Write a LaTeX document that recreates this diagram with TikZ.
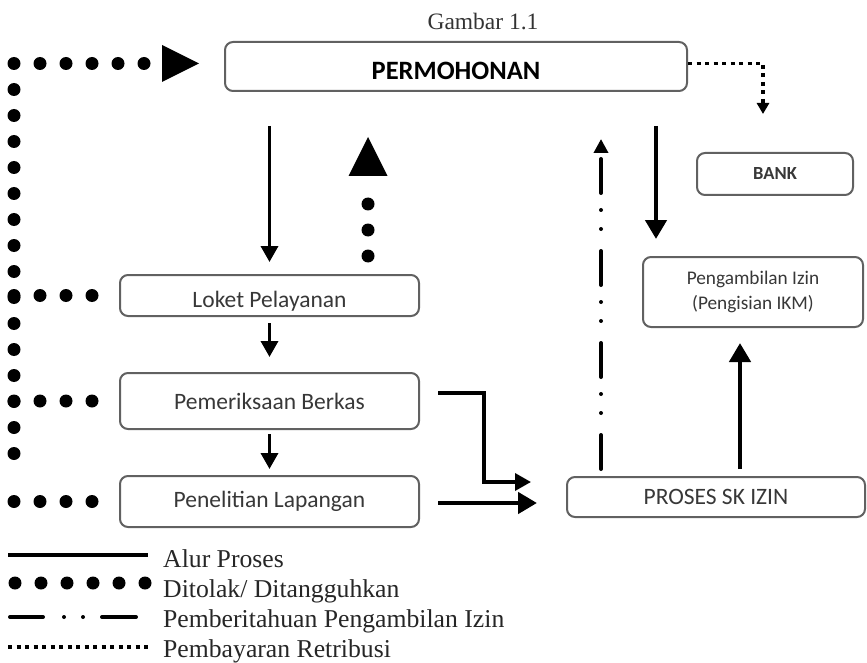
\documentclass[tikz,border=0pt]{standalone}
\usepackage{fontspec}
\setmainfont{Liberation Serif}
\newfontfamily\boxfont{Carlito}
\usetikzlibrary{arrows.meta,calc}

\begin{document}
\begin{tikzpicture}[x=1pt,y=-1pt,
  box/.style={draw=black!62, line width=2pt, rounded corners=8pt, fill=white,
    text=black!78, inner sep=0pt, font=\boxfont\fontsize{23.5}{28}\selectfont},
  flow/.style={line width=3.5pt, -{Triangle[length=16pt,width=17pt]}},
  flowthick/.style={line width=4.5pt, -{Triangle[length=19pt,width=21pt]}},
  rej/.style={line width=13pt, line cap=round, dash pattern=on 0pt off 26pt},
  notif/.style={line width=4pt, line cap=round,
    dash pattern=on 34pt off 22pt on 0pt off 19pt on 0pt off 17pt,
    -{Triangle[length=14pt,width=14pt]}},
  pay/.style={line width=3.5pt, dash pattern=on 4pt off 4.5pt},
  legtext/.style={anchor=base west, inner sep=0pt, text=black!85,
    font=\fontsize{25.7}{30}\selectfont}
]
\useasboundingbox (0,0) rectangle (867,663);

% title
\node[anchor=base, inner sep=0pt, text=black!80, font=\fontsize{23.5}{28}\selectfont]
  (title) at (483,30) {Gambar 1.1};

% process boxes
\node[box, minimum width=462pt, minimum height=49pt, text height=27pt, text depth=0pt,
  font=\boxfont\bfseries\fontsize{26.5}{30}\selectfont, text=black]
  (perm) at (456,66.5) {PERMOHONAN};
\node[box, minimum width=299pt, minimum height=41pt, text height=24pt, text depth=0pt]
  (loket) at (269.5,295.5) {Loket Pelayanan};
\node[box, minimum width=299pt, minimum height=56pt] (pem) at (269.5,401) {Pemeriksaan Berkas};
\node[box, minimum width=299pt, minimum height=51pt] (pen) at (269.5,501.5) {Penelitian Lapangan};
\node[box, minimum width=298pt, minimum height=40pt] (proses) at (716,497) {PROSES SK IZIN};
\node[box, minimum width=156pt, minimum height=42pt,
  font=\boxfont\bfseries\fontsize{18.5}{22}\selectfont] (bank) at (775,174) {BANK};
\node[box, minimum width=220pt, minimum height=70pt, align=center,
  font=\boxfont\fontsize{19.3}{25}\selectfont] (peng) at (753,292)
  {Pengambilan Izin\\(Pengisian IKM)};

% main process flow
\draw[flow, shorten <=34pt, shorten >=12pt] (loket.north |- perm.south) -- (loket.north);
\draw[flow, shorten <=6pt, shorten >=15pt] (loket.south) -- (pem.north);
\draw[flow, shorten <=4pt, shorten >=6pt] (pem.south) -- (pen.north);
\draw[flow] ($(pem.east)+(18,-8)$) -| ($(proses.west)+(-82,-15)$) -- ($(proses.west)+(-35,-15)$);
\draw[flowthick] ($(pen.east)+(18,1.5)$) -- ($(proses.west)+(-29,6)$);
\draw[flowthick, shorten <=34pt, shorten >=17pt]
  ([xshift=-97pt]peng.north |- perm.south) -- ([xshift=-97pt]peng.north);
\draw[flowthick, shorten <=7pt, shorten >=15pt]
  ([xshift=24pt]proses.north) -- ([xshift=24pt]proses.north |- peng.south);

% permit notification
\draw[notif, shorten <=7pt, shorten >=47pt]
  ([xshift=-115pt]proses.north) -- ([xshift=-115pt]proses.north |- perm.south);

% fee payment to the bank
\draw[pay, -{Triangle[length=11pt,width=12pt]}]
  ([yshift=3pt]perm.east) -| ($(bank.north)+(-12,-38)$);

% rejected / postponed returns
\coordinate (rejB) at (14,453.5);
\coordinate (rejT) at (14,63.5);
\coordinate (rejR) at (146,63.5);
\draw[rej] (rejB) -- (rejT) -- (rejR);
\fill ($(perm.west)+(-62,-21.5)$) -- ($(perm.west)+(-62,15.5)$) -- ($(perm.west)+(-25,-3)$) -- cycle;
\draw[rej] ([xshift=-27pt]loket.west) -- ([xshift=-106pt]loket.west);
\draw[rej] ([xshift=-27pt]pem.west) -- ([xshift=-106pt]pem.west);
\draw[rej] ([xshift=-27pt]pen.west) -- ([xshift=-106pt]pen.west);

\coordinate (upB) at ([xshift=98.5pt,yshift=18pt]loket.north);
\draw[rej] (upB) -- ++(0,-78);
\fill ($(upB)+(-19.5,-80)$) -- ($(upB)+(19.5,-80)$) -- ($(upB)+(0,-119)$) -- cycle;

% legend
\draw[line width=4pt] (8,555) -- (148,555);
\node[legtext] (l1) at (163,567) {Alur Proses};
\draw[rej] (15,583) -- (145.5,583);
\node[legtext] (l2) at (163,597) {Ditolak/ Ditangguhkan};
\draw[line width=4pt, line cap=round,
  dash pattern=on 33pt off 21pt on 0pt off 19pt on 0pt off 19pt on 50pt off 1pt]
  (10,617) -- (136,617);
\node[legtext] (l3) at (163,627) {Pemberitahuan Pengambilan Izin};
\draw[pay] (8,647) -- (148,647);
\node[legtext] (l4) at (163,657) {Pembayaran Retribusi};
\end{tikzpicture}
\end{document}
